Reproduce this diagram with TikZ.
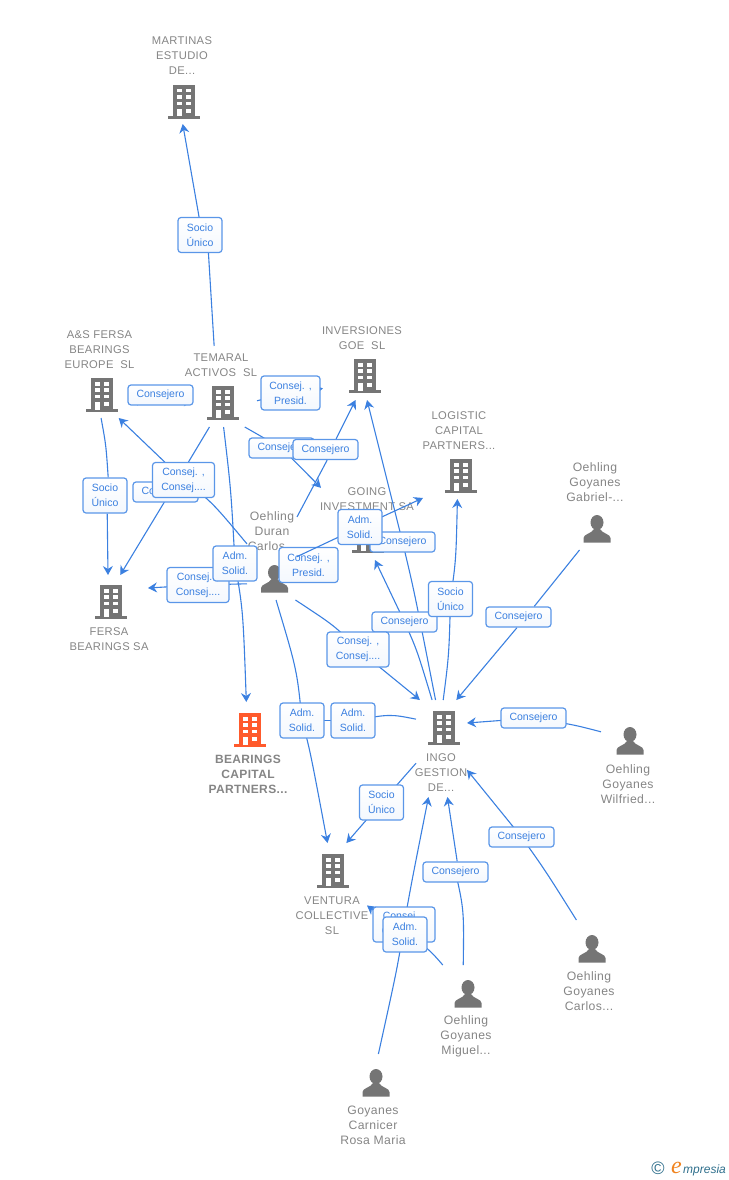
\documentclass[tikz,border=0pt]{standalone}
\usepackage{fontspec}
\setmainfont[LetterSpace=3]{Liberation Sans}
\newfontfamily\labfont{Liberation Sans}
\newfontfamily\logofont{Liberation Serif}
\usetikzlibrary{arrows.meta,shadings}
\definecolor{iconc}{HTML}{757575}
\definecolor{orangec}{HTML}{FF5A2C}
\definecolor{linec}{HTML}{3B80E0}
\definecolor{boxc}{HTML}{5A96E8}
\definecolor{txtc}{HTML}{858585}
\definecolor{logob}{HTML}{2F6F8C}
\definecolor{logoo}{HTML}{F08420}
\pgfdeclarelayer{back}\pgfdeclarelayer{edges}\pgfdeclarelayer{lowlab}\pgfdeclarelayer{over}
\pgfsetlayers{back,edges,lowlab,over,main}
\tikzset{
 hull/.style={rectangle,inner sep=0pt,outer sep=0pt,minimum width=#1},
 building/.style={rectangle,inner sep=0pt,minimum width=34pt,minimum height=36pt,path picture={
   \begin{scope}[shift={(path picture bounding box.center)}]
   \fill[#1] (-11.3,-17) rectangle (11.3,14.5);
   \fill[#1] (-16,14.4) rectangle (16,17);
   \fill[white] (-7.3,-13) rectangle (-2.3,-9.5);
   \fill[white] (2.3,-13) rectangle (7.3,-9.5);
   \fill[white] (-7.3,-6.7) rectangle (-2.3,-3.2);
   \fill[white] (2.3,-6.7) rectangle (7.3,-3.2);
   \fill[white] (-7.3,-0.2) rectangle (-2.3,3.3);
   \fill[white] (2.3,-0.2) rectangle (7.3,3.3);
   \fill[white] (-7.3,6.7) rectangle (-2.3,14.5);
   \fill[white] (2.3,6.7) rectangle (7.3,11);
   \end{scope}}},
 person/.style={rectangle,inner sep=0pt,minimum width=28pt,minimum height=28pt,path picture={
   \begin{scope}[shift={(path picture bounding box.center)}]
   \fill[iconc] (0,-6.5) ellipse [x radius=6.5,y radius=7.5];
   \fill[iconc] (-13.5,13.5) -- (-13.5,9) .. controls (-13.5,5) and (-5,4.5) .. (-3,0) -- (3,0) .. controls (5,4.5) and (13.5,5) .. (13.5,9) -- (13.5,13.5) -- cycle;
   \end{scope}}},
 name text/.style={inner sep=0pt,align=center,text=txtc,font=\fontsize{11.2}{15}\selectfont},
 person text/.style={name text,font=\fontsize{12.2}{15}\selectfont},
 lab/.style={rectangle,rounded corners=3pt,draw=boxc,line width=1.2pt,top color=white,bottom color=white!93!boxc,
   text=linec,inner sep=0pt,align=center,font=\labfont\fontsize{10.5}{15}\selectfont},
 labc/.style={lab,minimum width=65pt,minimum height=20pt},
 labs/.style={lab,minimum width=44pt,minimum height=35pt},
 labj/.style={lab,minimum width=62pt,minimum height=35pt},
 leg/.style={draw=linec,line width=1.1pt},
 arr/.style={leg,-{Stealth[length=9pt,width=10pt,inset=3pt]}},
 both/.style={leg,{Stealth[length=9pt,width=10pt,inset=3pt]}-{Stealth[length=9pt,width=10pt,inset=3pt]}},
}
\begin{document}
\begin{tikzpicture}[x=1pt,y=-1pt]
\path[use as bounding box] (0,0) rectangle (728,1180);

% invisible bounds of every entity (icon plus its text): connectors end on them
\node[hull=47pt,minimum height=89pt] (martinas) at (183.5,79.5) {};
\node[hull=64pt,minimum height=93pt] (asfersa) at (97,371.5) {};
\node[hull=64pt,minimum height=81pt] (temaral) at (225,386.5) {};
\node[hull=80pt,minimum height=77pt] (inversiones) at (363,361.5) {};
\node[hull=72pt,minimum height=91pt] (logistic) at (459,453.5) {};
\node[hull=92pt,minimum height=75pt] (going) at (367,522.5) {};
\node[hull=80pt,minimum height=80pt] (fersa) at (108,615) {};
\node[hull=82pt,minimum height=95pt] (bearings) at (248,749.5) {};
\node[hull=51pt,minimum height=97pt] (ingo) at (441.5,748.5) {};
\node[hull=74pt,minimum height=95pt] (ventura) at (330,890.5) {};
\node[hull=50pt,minimum height=92pt] (duran) at (272,554) {};
\node[hull=60pt,minimum height=90pt] (gabriel) at (595,505) {};
\node[hull=54pt,minimum height=84pt] (wilfried) at (628,764) {};
\node[hull=54pt,minimum height=94pt] (carlos) at (589,967) {};
\node[hull=53pt,minimum height=93pt] (miguel) at (466.5,1011.5) {};
\node[hull=69pt,minimum height=93pt] (rosa) at (373.5,1100.5) {};

\begin{pgfonlayer}{back}
\node[building=iconc] (iMartinas) at (184,102) {};
\node[building=iconc] (iAsfersa) at (102,395) {};
\node[building=iconc] (iTemaral) at (223,403) {};
\node[building=iconc] (iInversiones) at (365,376) {};
\node[building=iconc] (iLogistic) at (461,476) {};
\node[building=iconc] (iGoing) at (368,536) {};
\node[building=iconc] (iFersa) at (111,602) {};
\node[building=orangec] (iBearings) at (250,730) {};
\node[building=iconc] (iIngo) at (444,728) {};
\node[building=iconc] (iVentura) at (333,871) {};
\node[person] (iDuran) at (274.5,579) {};
\node[person] (iGabriel) at (597,529) {};
\node[person] (iWilfried) at (630,741) {};
\node[person] (iCarlos) at (592,949) {};
\node[person] (iMiguel) at (468,994) {};
\node[person] (iRosa) at (376,1083) {};

\node[name text] (tMartinas) at (182,56) {MARTINAS\\ESTUDIO\\DE...};
\node[name text] (tAsfersa) at (99.5,349.5) {A\&S FERSA\\BEARINGS\\EUROPE\ \ SL};
\node[name text] (tTemaral) at (221,365) {TEMARAL\\ACTIVOS\ \ SL};
\node[name text] (tInversiones) at (362,338) {INVERSIONES\\GOE\ \ SL};
\node[name text] (tLogistic) at (459,430.5) {LOGISTIC\\CAPITAL\\PARTNERS...};
\node[name text] (tGoing) at (367,499) {GOING\\INVESTMENT SA};
\node[name text] (tFersa) at (109,639) {FERSA\\BEARINGS SA};
\node[name text,font=\bfseries\fontsize{12}{15}\selectfont] (tBearings) at (248,774) {BEARINGS\\CAPITAL\\PARTNERS...};
\node[name text] (tIngo) at (441,772.5) {INGO\\GESTION\\DE...};
\node[name text] (tVentura) at (332,915.5) {VENTURA\\COLLECTIVE\\SL};
\node[person text] (tDuran) at (272,531) {Oehling\\Duran\\Carlos...};
\node[person text] (tGabriel) at (595,482) {Oehling\\Goyanes\\Gabriel-...};
\node[person text] (tWilfried) at (628,784) {Oehling\\Goyanes\\Wilfried...};
\node[person text] (tCarlos) at (589,991) {Oehling\\Goyanes\\Carlos...};
\node[person text] (tMiguel) at (466,1036) {Oehling\\Goyanes\\Miguel...};
\node[person text] (tRosa) at (373,1125) {Goyanes\\Carnicer\\Rosa Maria};
\end{pgfonlayer}

% labels, later ones above earlier ones
\begin{pgfonlayer}{lowlab}
\node[labj,minimum width=59pt] (lPresO) at (308.5,565) {Consej. ,\\Presid.};
\end{pgfonlayer}
\node[labs] (lSocioM) at (200,235) {Socio\\Único};
\node[labc] (lConsA) at (160.5,395) {Consejero};
\node[labj,minimum width=59pt,minimum height=34pt] (lPresT) at (290.5,393) {Consej. ,\\Presid.};
\node[labc] (lConsT) at (281.5,448) {Consejero};
\node[labc] (lConsO) at (325.5,449.5) {Consejero};
\node[labc] (lCo) at (165.5,492) {Consejero};
\node[labj] (lCC) at (183.5,480) {Consej. ,\\Consej....};
\node[labs] (lSocioA) at (105,495.5) {Socio\\Único};
\node[labj] (lCF) at (198,585) {Consej. ,\\Consej....};
\node[labs] (lAdmB) at (235,563.5) {Adm.\\Solid.};
\node[labc] (lConsG) at (402.5,542) {Consejero};
\node[labs] (lAdmG) at (360,527) {Adm.\\Solid.};
\node[labc] (lConsI) at (404.5,622) {Consejero};
\node[labs] (lSocioL) at (450.5,599) {Socio\\Único};
\node[labj] (lCI) at (358,649.5) {Consej. ,\\Consej....};
\node[labc] (lConsGa) at (518.5,617) {Consejero};
\node[labc] (lConsW) at (533.5,718) {Consejero};
\node[labc] (lConsC) at (521.5,837) {Consejero};
\node[labs] (lAdm1) at (302,720.5) {Adm.\\Solid.};
\node[labs] (lAdm2) at (353,720.5) {Adm.\\Solid.};
\node[labs] (lSocioV) at (381.5,802.5) {Socio\\Único};
\node[labc] (lConsM) at (455.5,872) {Consejero};
\node[labj] (lCV) at (404,924.5) {Consej. ,\\Consej....};
\node[labs] (lAdm3) at (405,934.5) {Adm.\\Solid.};

% connectors: entity -> label -> entity
\begin{pgfonlayer}{edges}
\draw[leg] (temaral.105.2) .. controls (211,295) .. (lSocioM.-65.4);
\draw[arr] (lSocioM.93.4) -- (martinas.-91);
\draw[both] (asfersa.-42.7) -- (temaral.-155.6);
\draw[leg] (asfersa.-85) .. controls (106,445) .. (lSocioA.80.3);
\draw[arr] (lSocioA.-83.5) -- (fersa.90);
\draw[leg] (temaral.-111.6) -- (lCo.43.6);
\draw[arr] (lCo.43.6) -- (fersa.73.3);
\draw[leg] (duran.158.2) .. controls (212,502) .. (lCC.center);
\draw[arr] (lCC.center) -- (asfersa.-65.7);
\draw[leg] (temaral.-92.8) .. controls (231,490) .. (lAdmB.center);
\draw[arr] (lAdmB.center) .. controls (243,610) .. (bearings.92.4);
\draw[leg] (duran.-130.8) -- (lCF.center);
\draw[arr] (lCF.center) -- (fersa.34);
\draw[leg] (temaral.-64.9) -- (lConsT.center);
\draw[arr] (lConsT.center) -- (going.143.1);
\draw[leg] (duran.56.5) -- (lConsO.-81);
\draw[arr] (lConsO.45) -- (inversiones.-101.7);
\draw[leg] (temaral.-24.4) -- (lPresT.center);
\draw[arr] (lPresT.center) -- (inversiones.-146.5);
\draw[arr] (lAdmG.center) -- (logistic.-129);
\draw[leg] (ingo.97.6) .. controls (414,590) .. (lConsG.center);
\draw[arr] (lConsG.center) -- (inversiones.-84);
\draw[leg] (ingo.101.1) .. controls (417,650) .. (lConsI.center);
\draw[arr] (lConsI.center) -- (going.-78);
\draw[leg] (ingo.88.2) .. controls (449,655) .. (lSocioL.center);
\draw[arr] (lSocioL.center) .. controls (456,560) .. (logistic.-92.5);
\draw[leg] (duran.-63.4) .. controls (335,626) .. (lCI.center);
\draw[arr] (lCI.center) -- (ingo.114.9);
\draw[leg] (duran.-85) .. controls (297,670) .. (lAdm1.center);
\draw[arr] (lAdm1.center) .. controls (310,750) .. (ventura.93.6);
\draw[leg] (ingo.131.8) .. controls (390,714) .. (lAdm2.center);
\draw[leg] (lAdm2.center) -- (lAdm1.center);
\draw[leg] (ingo.-150.4) -- (lSocioV.center);
\draw[arr] (lSocioV.center) -- (ventura.71.4);
\draw[leg] (gabriel.-109.6) -- (lConsGa.34.6);
\draw[arr] (lConsGa.-98.5) -- (ingo.73.4);
\draw[leg] (wilfried.130.2) .. controls (575,725) .. (lConsW.center);
\draw[arr] (lConsW.center) -- (ingo.45);
\draw[leg] (carlos.105.5) .. controls (545,870) .. (lConsC.center);
\draw[arr] (lConsC.center) -- (ingo.-40.1);
\draw[leg] (miguel.94.3) .. controls (464,910) .. (lConsM.center);
\draw[arr] (lConsM.81.5) -- (ingo.-83.5);
\draw[leg] (rosa.84.5) .. controls (398,965) .. (lCV.center);
\draw[arr] (lCV.center) .. controls (412,880) .. (ingo.-105.6);
\draw[leg] (miguel.117.8) .. controls (428,948) .. (lAdm3.center);
\draw[arr] (lAdm3.center) -- (ventura.-22.7);
\end{pgfonlayer}
\begin{pgfonlayer}{over}
\draw[leg] (duran.-6.8) -- (lAdmG.center);
\end{pgfonlayer}

% logo
\node[inner sep=0pt,text=logob,font=\labfont\fontsize{18}{18}\selectfont] (logoC) at (658,1168.5) {\textcopyright};
\node[inner sep=0pt,anchor=base west,text=logoo,font=\logofont\itshape\fontsize{24}{24}\selectfont] (logoE) at (671,1173.5) {e};
\node[inner sep=0pt,anchor=base west,text=logob,font=\labfont\itshape\fontsize{12}{12}\selectfont] (logoM) at (683,1173.5) {mpresia};
\end{tikzpicture}
\end{document}
